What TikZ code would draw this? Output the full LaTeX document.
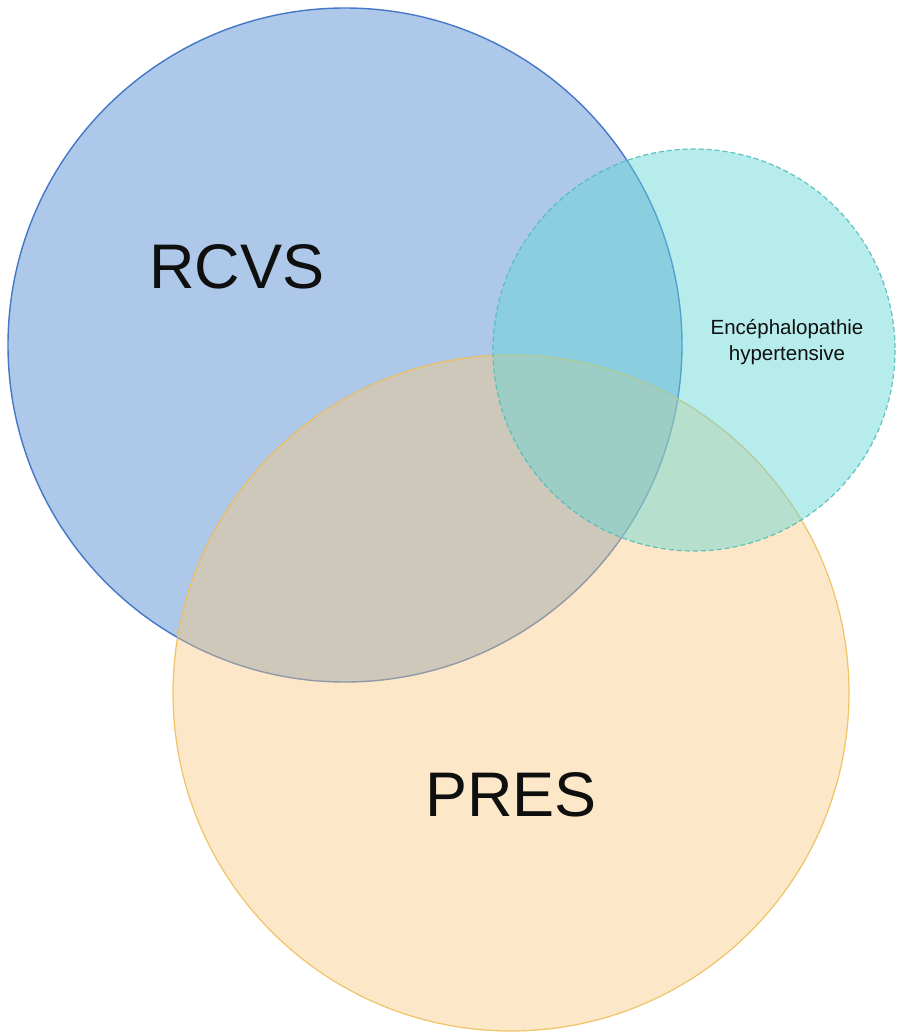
\documentclass[tikz,border=0pt]{standalone}
\usepackage{fontspec}
\setmainfont{Liberation Sans}
\definecolor{bluefill}{RGB}{173,200,232}
\definecolor{blueline}{RGB}{70,120,200}
\definecolor{orangefill}{RGB}{250,200,124}
\definecolor{orangeline}{RGB}{240,190,90}
\definecolor{cyanfill}{RGB}{100,214,214}
\definecolor{cyanline}{RGB}{80,190,185}
\definecolor{txt}{RGB}{15,15,15}
\begin{document}
\begin{tikzpicture}[x=1pt,y=-1pt,
  setblue/.style={fill=bluefill,draw=blueline,line width=1.4pt},
  setorange/.style={fill=orangefill,fill opacity=0.42,draw=orangeline,draw opacity=0.9,line width=1.2pt},
  setcyan/.style={fill=cyanfill,fill opacity=0.46,draw=cyanline,draw opacity=0.9,line width=1.2pt,dash pattern=on 5pt off 3pt},
  biglabel/.style={text=txt,font=\fontsize{63}{70}\selectfont,inner sep=0pt},
  smalllabel/.style={text=txt,font=\fontsize{20.5}{25.5}\selectfont,align=center,inner sep=0pt}]
\useasboundingbox (0,0) rectangle (897,1032);
\fill[white] (0,0) rectangle (897,1032);
\draw[setblue] (345,345) circle [radius=337];
\draw[setorange] (511,693) circle [radius=338];
\draw[setcyan] (694,350) circle [radius=201];
\node[biglabel] (rcvs) at (237,267) {RCVS};
\node[biglabel] (pres) at (511,795) {PRES};
\node[smalllabel] (enc) at (787,342) {Encéphalopathie\\hypertensive};
\end{tikzpicture}
\end{document}
